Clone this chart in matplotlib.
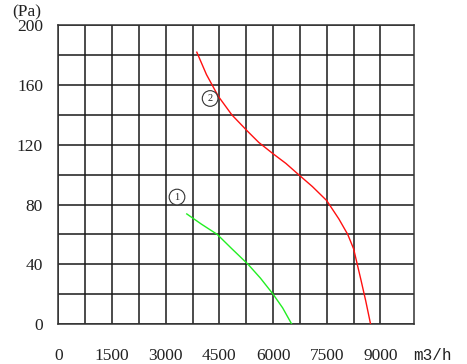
import numpy as np
import matplotlib.pyplot as plt

# curve 2 (red) and curve 1 (green)
red_q = [3870, 4140, 4470, 4850, 5290, 5600, 6000, 6360, 6715, 7100, 7500, 7840, 8086, 8250, 8456, 8590, 8724]
red_p = [182, 167, 152.5, 140, 129, 121.6, 114, 107.5, 100, 92, 82.6, 70.3, 60, 50.4, 29.5, 15.4, 0]
green_q = [3590, 3996, 4440, 4848, 5300, 5648, 6000, 6268, 6520]
green_p = [73.7, 66.9, 60, 50.4, 40, 30.7, 20, 10.8, 0]

x_ticks = [0, 1500, 3000, 4500, 6000, 7500, 9000]
y_ticks = [0, 40, 80, 120, 160, 200]
labels = [('1', 3317, 85), ('2', 4242, 151)]

serif = 'Liberation Serif'
txt = '#222222'

fig = plt.figure(figsize=(4.67, 3.64), dpi=100)
ax = fig.add_axes([0.1248, 0.1099, 0.7611, 0.8206])

ax.set_xlim(0, 9930)
ax.set_ylim(0, 200)
ax.set_xticks(x_ticks)
ax.set_xticks(np.arange(0, 9001, 750), minor=True)
ax.set_yticks(y_ticks)
ax.set_yticks(np.arange(0, 201, 20), minor=True)
ax.grid(True, which='both', color='#1a1a1a', linewidth=1.1)
ax.set_axisbelow(True)
for s in ax.spines.values():
    s.set_color('#333333')
    s.set_linewidth(1.1)

ax.tick_params(which='both', length=0)
ax.tick_params(axis='x', pad=17)
ax.tick_params(axis='y', pad=11)
for lab in ax.get_xticklabels() + ax.get_yticklabels():
    lab.set_fontfamily(serif)
    lab.set_fontsize(12.5)
    lab.set_color(txt)

ax.plot(red_q, red_p, color='#ff1010', linewidth=1.0, zorder=3)
ax.plot(green_q, green_p, color='#22ee22', linewidth=1.0, zorder=3)

for t, xq, yp in labels:
    ax.text(xq, yp, t, fontsize=7.5, ha='center', va='center', family=serif, color=txt, zorder=4,
            bbox=dict(boxstyle='circle,pad=0.32', fc='white', ec='#333333', lw=0.8))

fig.text(12 / 467, 1 - 12 / 364, '(Pa)', family=serif, fontsize=12.5, color=txt, va='center')
fig.text(413 / 467, 1 - 355 / 364, 'm3/h', family='Liberation Mono', fontsize=11.5, color=txt, va='center')

fig.savefig('out.png', dpi=100)
